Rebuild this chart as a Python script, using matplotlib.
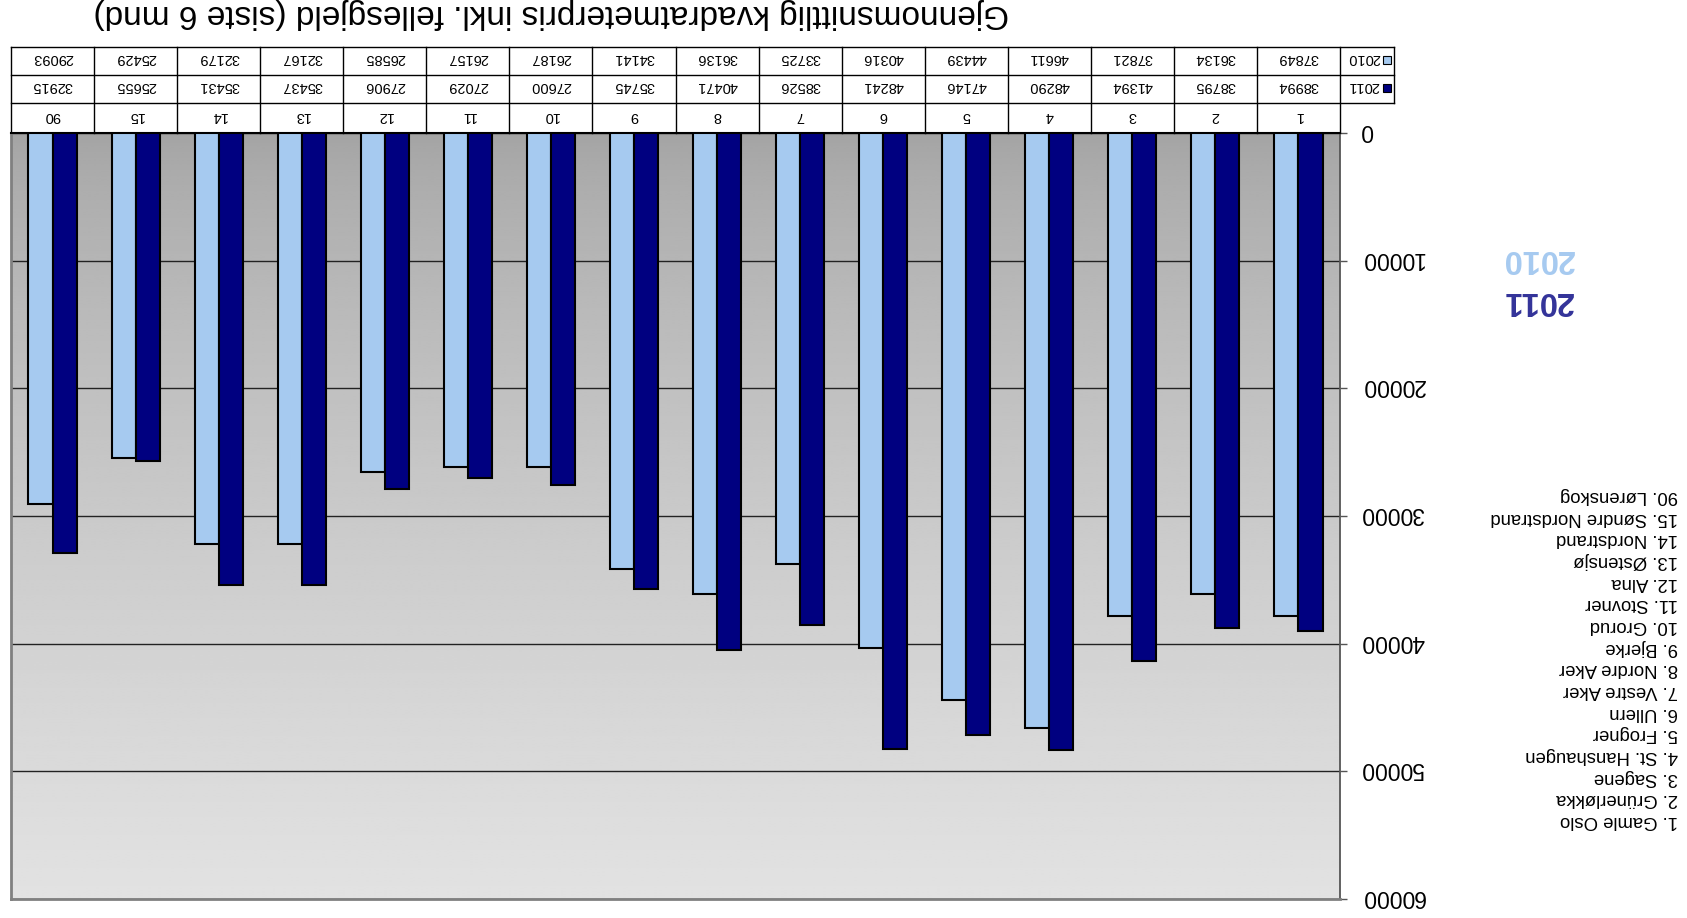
import numpy as np
import matplotlib
matplotlib.use('Agg')
import matplotlib.pyplot as plt
import matplotlib.transforms as mtransforms

plt.rcParams['font.family'] = ['Liberation Sans', 'DejaVu Sans']

# data
categories = ['1', '2', '3', '4', '5', '6', '7', '8', '9', '10', '11', '12', '13', '14', '15', '90']
price_2011 = [38994, 38795, 41394, 48290, 47146, 48241, 38526, 40471,
              35745, 27600, 27029, 27906, 35437, 35431, 25655, 32915]
price_2010 = [37849, 36134, 37821, 46611, 44439, 40316, 33725, 36136,
              34141, 26187, 26157, 26585, 32167, 32179, 25429, 29093]
districts = ['1. Gamle Oslo', '2. Grünerløkka', '3. Sagene', '4. St. Hanshaugen',
             '5. Frogner', '6. Ullern', '7. Vestre Aker', '8. Nordre Aker',
             '9. Bjerke', '10. Grorud', '11. Stovner', '12. Alna', '13. Østensjø',
             '14. Nordstrand', '15. Søndre Nordstrand', '90. Lørenskog']
series = ['2011', '2010']
title = 'Gjennomsnittlig kvadratmeterpris inkl. fellesgjeld (siste 6 mnd)'

col_2011 = '#000080'
col_2010 = '#a6caf0'

W, H = 1687, 918
fig = plt.figure(figsize=(W / 100, H / 100), dpi=100)


def px_box(x0, y0, x1, y1):
    return [x0 / W, 1 - y1 / H, (x1 - x0) / W, (y1 - y0) / H]


def fy(ypx):
    return 1 - ypx / H


# the whole chart is shown turned upside down
ax = fig.add_axes(px_box(11, 133, 1340, 899))
n = len(categories)
x = np.arange(n)

# grey gradient plot area, dark near 0
shade = 0.64 + (0.886 - 0.64) * np.linspace(0, 1, 256) ** 0.7
ax.imshow(np.repeat(shade[:, None], 2, axis=1), cmap='gray', vmin=0, vmax=1,
          aspect='auto', extent=(n - 0.5, -0.5, 60000, 0), zorder=0,
          interpolation='bilinear')

w = 0.29
ax.bar(x + w / 2, price_2010, w, color=col_2010, edgecolor='black', lw=1.5, zorder=3)
ax.bar(x - w / 2, price_2011, w, color=col_2011, edgecolor='black', lw=1.5, zorder=3)

ax.set_xlim(n - 0.5, -0.5)
ax.set_ylim(60000, 0)
ax.set_yticks(range(0, 60001, 10000))
ax.yaxis.grid(True, color='#222222', lw=1.0)
ax.set_xticks([])
ax.yaxis.tick_right()
ax.tick_params(axis='y', length=5, width=1, color='#555555', pad=10, labelsize=16.5)
for lab in ax.get_yticklabels():
    lab.set_rotation(180)
    lab.set_rotation_mode('anchor')
    lab.set_ha('right')
    lab.set_va('center_baseline')

ax.spines['top'].set_color('black')
ax.spines['top'].set_linewidth(1.5)
for s in ['left', 'bottom']:
    ax.spines[s].set_color('#808080')
    ax.spines[s].set_linewidth(2)
ax.spines['right'].set_color('#555555')
ax.spines['right'].set_linewidth(1.3)

# data table above the plot (rows: 2010, 2011, category)
trans = mtransforms.blended_transform_factory(ax.transData, fig.transFigure)
unit_px = (1340 - 11) / n
xh = -0.5 - 54 / unit_px
y_top, y_r1, y_r2, y_bot = 47, 75, 103, 133
kw = dict(color='black', lw=1, transform=trans, clip_on=False)
for i in range(n + 1):
    ax.plot([i - 0.5, i - 0.5], [fy(y_top), fy(y_bot)], **kw)
ax.plot([xh, xh], [fy(y_top), fy(y_r2)], **kw)
for yy in [y_top, y_r1, y_r2]:
    ax.plot([xh, n - 0.5], [fy(yy), fy(yy)], **kw)

tkw = dict(transform=trans, rotation=180, rotation_mode='anchor', ha='center',
           va='center_baseline', fontsize=10.5)
for i in range(n):
    ax.text(i, fy(60), str(price_2010[i]), **tkw)
    ax.text(i, fy(88), str(price_2011[i]), **tkw)
    ax.text(i, fy(117), categories[i], **tkw)

for yy, label, col in [(88, series[0], col_2011), (60, series[1], col_2010)]:
    ax.plot([-0.5 - 47 / unit_px], [fy(yy)], marker='s', ms=5.5, mfc=col, mec='black',
            mew=0.8, transform=trans, clip_on=False)
    ax.text(-0.5 - 24 / unit_px, fy(yy), label, **tkw)

# title
fig.text(551 / W, fy(14), title, rotation=180, ha='center', va='center', fontsize=24)

# year legend
fig.text(1538 / W, fy(259), series[1], rotation=180, ha='center', va='center',
         fontsize=23.5, fontweight='bold', color=col_2010)
fig.text(1538 / W, fy(300), series[0], rotation=180, ha='center', va='center',
         fontsize=23.5, fontweight='bold', color='#333399')

# district names
fig.text(1678 / W, fy(658), '\n'.join(districts), rotation=180, ha='right', va='center',
         multialignment='left', fontsize=13.3, linespacing=1.36)

fig.savefig('out.png', dpi=100)
